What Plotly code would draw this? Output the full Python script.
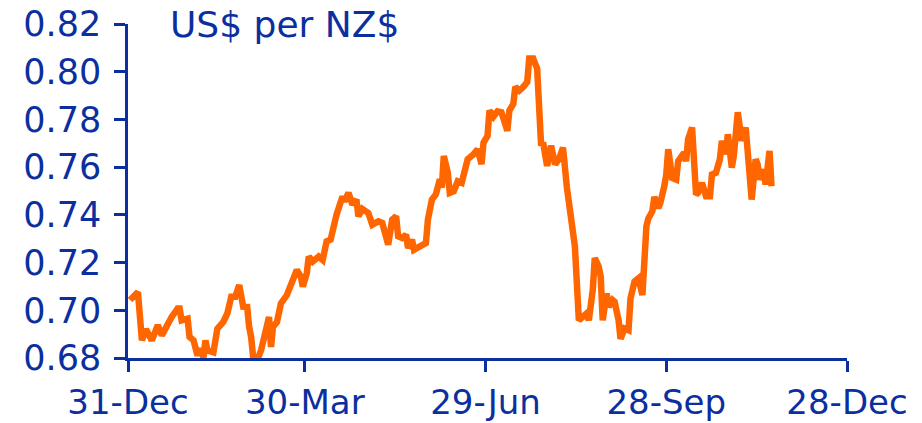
import pandas as pd
import plotly.graph_objects as go

# ---- data ----
base_date = "2006-12-31"
day_offsets = [1, 4, 5, 7, 9, 12, 15, 17, 20, 22, 25, 26, 27, 30, 31, 33, 35, 36, 38, 39,
               40, 43, 45, 48, 50, 52, 54, 56, 58, 60, 61, 62, 63, 65, 67, 69, 71, 72, 73, 75,
               77, 80, 82, 83, 85, 87, 88, 90, 91, 93, 96, 98, 100, 102, 104, 105, 108, 109, 111, 113,
               115, 116, 118, 121, 123, 126, 128, 129, 131, 133, 135, 136, 138, 140, 141, 143, 144, 147, 150, 151,
               153, 155, 157, 158, 159, 161, 162, 164, 166, 168, 170, 171, 174, 176, 178, 179, 181, 182, 184, 186,
               188, 191, 192, 194, 195, 197, 199, 201, 202, 204, 206, 207, 208, 209, 210, 211, 213, 215, 217, 219,
               221, 222, 224, 225, 227, 229, 231, 232, 234, 235, 237, 238, 239, 241, 242, 244, 245, 247, 248, 250,
               252, 253, 255, 257, 259, 261, 262, 264, 265, 267, 268, 270, 271, 272, 274, 276, 277, 280, 281, 282,
               284, 286, 287, 289, 291, 293, 294, 296, 298, 299, 301, 302, 304, 305, 307, 309, 311, 314, 316, 317,
               318, 320, 321, 323, 324]
usd_per_nzd = [0.7043, 0.7076, 0.7076, 0.6874, 0.6920, 0.6874, 0.6937, 0.6895, 0.6951, 0.6972, 0.7008, 0.7008, 0.6958, 0.6965, 0.6888, 0.6874, 0.6810, 0.6839, 0.6803, 0.6874,
               0.6832, 0.6824, 0.6923, 0.6951, 0.6987, 0.7057, 0.7057, 0.7106, 0.7015, 0.7014, 0.6930, 0.6888, 0.6803, 0.6790, 0.6832, 0.6902, 0.6972, 0.6846, 0.6930, 0.6951,
               0.7029, 0.7064, 0.7113, 0.7120, 0.7169, 0.7141, 0.7099, 0.7155, 0.7225, 0.7204, 0.7225, 0.7211, 0.7289, 0.7296, 0.7380, 0.7401, 0.7477, 0.7457, 0.7492, 0.7443,
               0.7464, 0.7394, 0.7425, 0.7408, 0.7359, 0.7373, 0.7366, 0.7324, 0.7275, 0.7380, 0.7394, 0.7310, 0.7303, 0.7317, 0.7261, 0.7296, 0.7254, 0.7268, 0.7282, 0.7380,
               0.7464, 0.7486, 0.7549, 0.7514, 0.7647, 0.7577, 0.7492, 0.7499, 0.7541, 0.7534, 0.7590, 0.7633, 0.7654, 0.7675, 0.7612, 0.7703, 0.7731, 0.7837, 0.7812, 0.7834,
               0.7830, 0.7752, 0.7837, 0.7865, 0.7936, 0.7921, 0.7936, 0.7957, 0.8055, 0.8055, 0.8013, 0.7886, 0.7690, 0.7703, 0.7647, 0.7605, 0.7690, 0.7612, 0.7633, 0.7682,
               0.7513, 0.7450, 0.7352, 0.7268, 0.6958, 0.6970, 0.6987, 0.6958, 0.7085, 0.7219, 0.7183, 0.7141, 0.6958, 0.7071, 0.7014, 0.7043, 0.7036, 0.6958, 0.6880, 0.6923,
               0.6916, 0.7050, 0.7120, 0.7134, 0.7064, 0.7352, 0.7385, 0.7415, 0.7475, 0.7429, 0.7450, 0.7520, 0.7569, 0.7675, 0.7555, 0.7548, 0.7625, 0.7661, 0.7625, 0.7717,
               0.7766, 0.7485, 0.7492, 0.7534, 0.7478, 0.7478, 0.7569, 0.7576, 0.7633, 0.7710, 0.7654, 0.7738, 0.7598, 0.7647, 0.7830, 0.7710, 0.7766, 0.7464, 0.7633, 0.7612,
               0.7548, 0.7590, 0.7527, 0.7668, 0.7520]
assert len(day_offsets) == len(usd_per_nzd)

tick_dates = ["2006-12-31", "2007-03-30", "2007-06-29", "2007-09-28", "2007-12-28"]
tick_labels = ["31-Dec", "30-Mar", "29-Jun", "28-Sep", "28-Dec"]
y_ticks = [0.68, 0.70, 0.72, 0.74, 0.76, 0.78, 0.80, 0.82]
title_text = "US$ per NZ$"

dates = pd.Timestamp(base_date) + pd.to_timedelta(day_offsets, unit="D")

BLUE = "#0B2F9F"
ORANGE = "#FF6600"
FONT = "DejaVu Sans"

fig = go.Figure()
fig.add_trace(go.Scatter(x=dates, y=usd_per_nzd, mode="lines",
                         line=dict(color=ORANGE, width=6.5), hoverinfo="x+y"))

fig.update_layout(
    width=922, height=423,
    margin=dict(l=128, r=75, t=24, b=65, autoexpand=False),
    paper_bgcolor="white", plot_bgcolor="white",
    showlegend=False,
    font=dict(family=FONT, color=BLUE, size=35),
)
fig.update_xaxes(
    type="date", range=[tick_dates[0], tick_dates[-1]],
    tickmode="array", tickvals=tick_dates, ticktext=tick_labels,
    showline=True, linecolor=BLUE, linewidth=2.5,
    ticks="outside", ticklen=11, tickwidth=2.5, tickcolor=BLUE,
    showgrid=False, zeroline=False, automargin=False,
    tickfont=dict(family=FONT, size=34, color=BLUE),
    ticklabelstandoff=1,
)
fig.update_yaxes(
    range=[0.68, 0.82], tickmode="array", tickvals=y_ticks,
    ticktext=[f"{v:.2f}" for v in y_ticks],
    showline=True, linecolor=BLUE, linewidth=2.5,
    ticks="outside", ticklen=11, tickwidth=2.5, tickcolor=BLUE,
    showgrid=False, zeroline=False, automargin=False,
    tickfont=dict(family=FONT, size=35, color=BLUE),
    ticklabelstandoff=6,
)
fig.add_annotation(text=title_text, xref="paper", yref="paper",
                   x=(168 - 128) / 719, y=1.0, xanchor="left", yanchor="middle",
                   showarrow=False, font=dict(family=FONT, size=36, color=BLUE))

fig.write_html("out.html", config={"displayModeBar": False},
               post_script="document.body.style.margin='0';document.body.style.overflow='hidden';")
